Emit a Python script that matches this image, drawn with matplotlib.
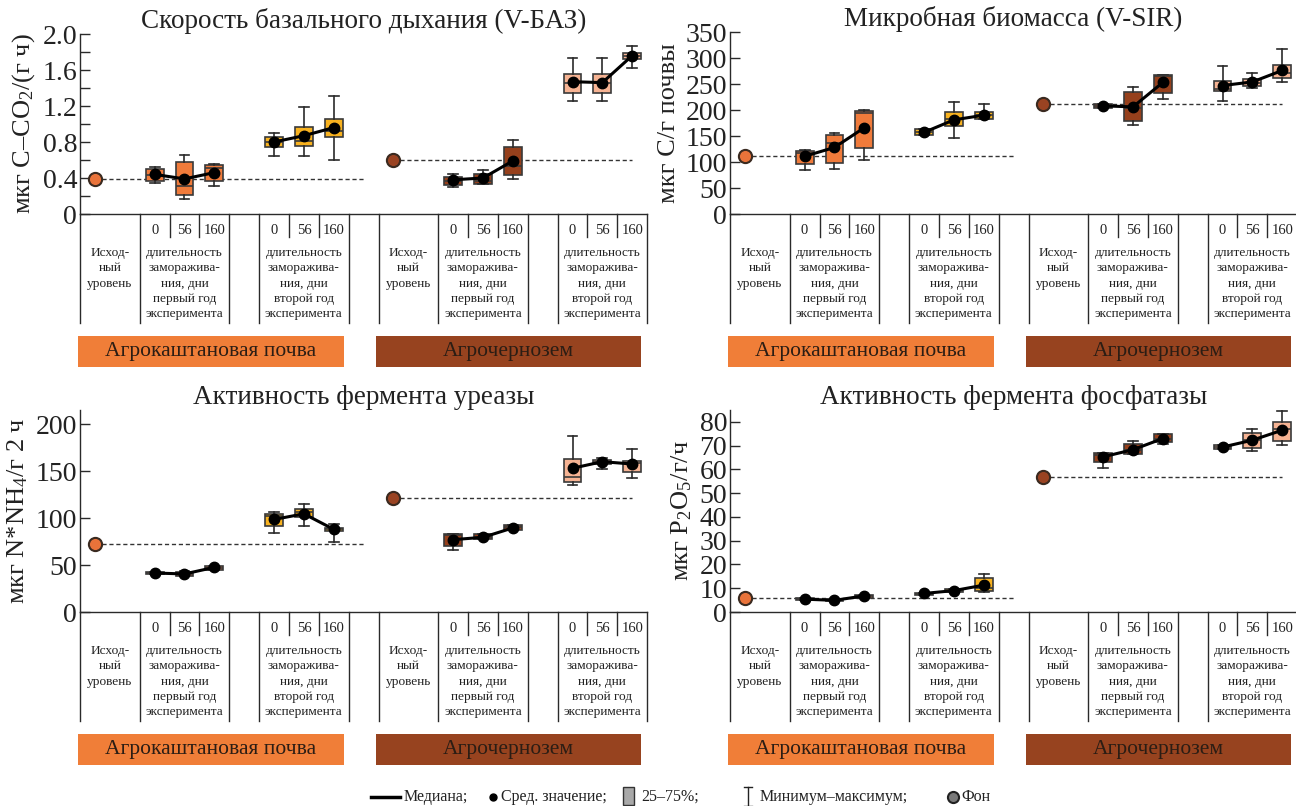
import matplotlib
matplotlib.use("Agg")
import matplotlib.pyplot as plt
from matplotlib.patches import Rectangle

plt.rcParams['font.family'] = ['Liberation Serif', 'DejaVu Serif']
plt.rcParams['mathtext.fontset'] = 'custom'
plt.rcParams['mathtext.rm'] = 'Liberation Serif'
plt.rcParams['mathtext.it'] = 'Liberation Serif:italic'

# ---------------- data ----------------
titles = ["Скорость базального дыхания (V-БАЗ)", "Микробная биомасса (V-SIR)",
          "Активность фермента уреазы", "Активность фермента фосфатазы"]
ylabels = ["мкг C–CO$_2$/(г ч)", "мкг C/г почвы", "мкг N*NH$_4$/г 2 ч", "мкг P$_2$O$_5$/г/ч"]
days = ["0", "56", "160"]
soils = ["Агрокаштановая почва", "Агрочернозем"]
base_text = ["Исход-", "ный", "уровень"]
year1_text = ["длительность", "заморажива-", "ния, дни", "первый год", "эксперимента"]
year2_text = ["длительность", "заморажива-", "ния, дни", "второй год", "эксперимента"]

# boxes: agro y1 (0,56,160), agro y2, chern y1, chern y2
bas_lo = [.34, .17, .31, .65, .65, .60, .30, .33, .39, 1.255, 1.255, 1.62]
bas_q1 = [.37, .21, .37, .75, .76, .86, .32, .33, .43, 1.34, 1.34, 1.72]
bas_med = [.43, .315, .51, .80, .81, .925, .365, .37, .53, 1.455, 1.455, 1.755]
bas_q3 = [.50, .575, .54, .86, .97, 1.055, .415, .45, .75, 1.56, 1.56, 1.79]
bas_hi = [.52, .66, .555, .90, 1.19, 1.31, .44, .485, .82, 1.73, 1.73, 1.87]
bas_mean = [.44, .39, .46, .80, .87, .96, .38, .40, .59, 1.47, 1.46, 1.76]
bas_base = [0.385, 0.595]

sir_lo = [85, 87, 103, 151, 147, 182, 204, 171, 221, 217, 243, 254]
sir_q1 = [96, 98, 126, 151, 169, 183, 204, 179, 232, 236, 247, 261]
sir_med = [118, 136, 195, 158, 182, 190, 208, 204, 266, 241, 252, 271]
sir_q3 = [121, 151, 198, 163, 196, 197, 211, 234, 268, 255, 259, 286]
sir_hi = [124, 156, 200, 163, 215, 211, 212, 245, 268, 284, 272, 317]
sir_mean = [111, 128, 166, 157, 181, 190, 208, 206, 253, 247, 254, 276]
sir_base = [112, 212]

ure_lo = [40, 38, 45, 84, 91.5, 75, 66, 77.5, 87, 135, 152, 143]
ure_q1 = [40, 38, 45, 92, 101.5, 86.5, 70, 77.5, 87, 138, 157, 149.5]
ure_med = [41.5, 40.5, 47, 102, 106, 88, 82, 80, 90, 144, 160, 158.5]
ure_q3 = [43, 43, 49, 104.5, 110, 89.5, 83.5, 82.5, 92.5, 162.5, 161.5, 161]
ure_hi = [43, 44, 49, 106, 115, 94, 83.5, 82.5, 92.5, 187, 164, 174]
ure_mean = [41.5, 40.5, 47.5, 98.5, 104.5, 88, 77, 79.5, 89.5, 153, 160, 157.5]
ure_base = [72.5, 121.5]

pho_lo = [5.0, 4.5, 6.0, 7.3, 8.3, 8.5, 60.7, 66.3, 70.6, 68.6, 67.7, 70.2]
pho_q1 = [5.0, 4.5, 6.0, 7.3, 8.3, 9.0, 63.0, 66.3, 71.5, 68.6, 69.2, 72.0]
pho_med = [5.4, 4.9, 6.6, 7.7, 9.0, 10.0, 66.0, 68.0, 73.0, 69.4, 72.3, 76.8]
pho_q3 = [5.8, 5.3, 7.2, 8.1, 9.6, 14.2, 67.0, 70.7, 74.8, 70.3, 75.2, 79.9]
pho_hi = [5.8, 5.3, 7.2, 8.1, 9.6, 15.8, 67.0, 72.0, 74.8, 70.3, 77.0, 84.5]
pho_mean = [5.4, 4.9, 6.8, 7.8, 9.0, 11.3, 65.3, 68.3, 73.0, 69.4, 72.3, 76.5]
pho_base = [5.8, 56.6]

panels = [
    dict(lo=bas_lo, q1=bas_q1, med=bas_med, q3=bas_q3, hi=bas_hi, mean=bas_mean, base=bas_base,
         ymax=2.0, ticks=[0, 0.4, 0.8, 1.2, 1.6, 2.0], labels=["0", "0.4", "0.8", "1.2", "1.6", "2.0"],
         minor=[0.2, 0.6, 1.0, 1.4, 1.8], x0=80, top=34, zero=214),
    dict(lo=sir_lo, q1=sir_q1, med=sir_med, q3=sir_q3, hi=sir_hi, mean=sir_mean, base=sir_base,
         ymax=350, ticks=list(range(0, 351, 50)), labels=[str(v) for v in range(0, 351, 50)],
         minor=[], x0=730, top=32, zero=214),
    dict(lo=ure_lo, q1=ure_q1, med=ure_med, q3=ure_q3, hi=ure_hi, mean=ure_mean, base=ure_base,
         ymax=215, ticks=list(range(0, 201, 50)), labels=[str(v) for v in range(0, 201, 50)],
         minor=[], x0=80, top=410, zero=612),
    dict(lo=pho_lo, q1=pho_q1, med=pho_med, q3=pho_q3, hi=pho_hi, mean=pho_mean, base=pho_base,
         ymax=85, ticks=list(range(0, 81, 10)), labels=[str(v) for v in range(0, 81, 10)],
         minor=[], x0=730, top=410, zero=612),
]

# ---------------- style ----------------
W, H = 1296, 806
box_colors = ['#F07B3B'] * 3 + ['#F8B21F'] * 3 + ['#96401C'] * 3 + ['#F6B393'] * 3
base_colors = ['#E9733A', '#9A4322']
band_colors = ['#F07E38', '#97431F']
positions = [2.5, 3.5, 4.5, 6.5, 7.5, 8.5, 12.5, 13.5, 14.5, 16.5, 17.5, 18.5]
dark = '#2a2a2a'
unit = 29.85
width_px = 19 * unit

fig = plt.figure(figsize=(W / 100, H / 100), dpi=100)


def add_ax(x0, ytop, x1, ybot):
    return fig.add_axes([x0 / W, 1 - ybot / H, (x1 - x0) / W, (ybot - ytop) / H])


for i, p in enumerate(panels):
    ax = add_ax(p['x0'], p['top'], p['x0'] + width_px, p['zero'])
    ax.set_xlim(0, 19)
    ax.set_ylim(0, p['ymax'])
    for s in ['top', 'right']:
        ax.spines[s].set_visible(False)
    for s in ['left', 'bottom']:
        ax.spines[s].set_color(dark)
        ax.spines[s].set_linewidth(1.0)
    ax.set_xticks([])
    ax.set_yticks(p['ticks'])
    ax.set_yticklabels(p['labels'])
    if p['minor']:
        ax.set_yticks(p['minor'], minor=True)
    ax.tick_params(axis='y', which='both', direction='in', length=7, width=1, color=dark,
                   labelsize=20, labelcolor='#222222', pad=2)
    ax.set_title(titles[i], fontsize=19.5, color='#222222', pad=4)
    ax.set_ylabel(ylabels[i], fontsize=19, color='#222222', labelpad=4)

    # baseline dashed lines and circles
    for k, (xs, xe) in enumerate([(0.5, 9.5), (10.5, 18.5)]):
        ax.plot([xs, xe], [p['base'][k], p['base'][k]], ls=(0, (3, 2)), lw=1.0, color='#333333', zorder=1)
        ax.plot([xs], [p['base'][k]], 'o', ms=9.5, mfc=base_colors[k], mec='#3a2a20', mew=1.5,
                zorder=4, clip_on=False)

    stats = []
    for j in range(12):
        stats.append(dict(med=p['med'][j], q1=p['q1'][j], q3=p['q3'][j],
                          whislo=p['lo'][j], whishi=p['hi'][j], mean=p['mean'][j], fliers=[]))
    bp = ax.bxp(stats, positions=positions, widths=0.6, patch_artist=True, showmeans=False,
                showcaps=True, capwidths=0.33, manage_ticks=False,
                boxprops=dict(edgecolor='#3a3a3a', linewidth=1.2),
                medianprops=dict(color='#3a3a3a', linewidth=1.2),
                whiskerprops=dict(color='#2a2a2a', linewidth=1.2),
                capprops=dict(color='#2a2a2a', linewidth=1.2))
    for patch, c in zip(bp['boxes'], box_colors):
        patch.set_facecolor(c)
        patch.set_zorder(2)
    for g in range(4):
        idx = slice(3 * g, 3 * g + 3)
        ax.plot(positions[idx], p['mean'][idx], '-', color='black', lw=2.2, zorder=5)
        ax.plot(positions[idx], p['mean'][idx], 'o', color='black', ms=7.5, zorder=6)

    # table below the axis
    t = add_ax(p['x0'], p['zero'], p['x0'] + width_px, p['zero'] + 156)
    t.set_xlim(0, 19)
    t.set_ylim(156, 0)
    t.axis('off')
    full = [0, 2, 5, 6, 9, 10, 12, 15, 16, 19]
    short = [3, 4, 7, 8, 13, 14, 17, 18]
    for xv in full:
        t.plot([xv, xv], [0, 109], color=dark, lw=1.0, clip_on=False)
    for xv in short:
        t.plot([xv, xv], [0, 23], color=dark, lw=1.0, clip_on=False)
    for gx in [2.5, 6.5, 12.5, 16.5]:
        for k, d in enumerate(days):
            t.text(gx + k, 17, d, ha='center', va='center', fontsize=10.5, color='#222222')
    for bx in [1, 11]:
        for k, line in enumerate(base_text):
            t.text(bx, 39 + 15.3 * k, line, ha='center', va='center', fontsize=9.6, color='#222222')
    for gx, lines in [(3.5, year1_text), (7.5, year2_text), (13.5, year1_text), (17.5, year2_text)]:
        for k, line in enumerate(lines):
            t.text(gx, 39 + 15.3 * k, line, ha='center', va='center', fontsize=9.6, color='#222222')
    for k, (bx0, bx1) in enumerate([(-0.07, 8.85), (9.93, 18.8)]):
        t.add_patch(Rectangle((bx0, 122), bx1 - bx0, 31, facecolor=band_colors[k],
                              edgecolor='none', clip_on=False))
        t.text((bx0 + bx1) / 2, 137.5, soils[k], ha='center', va='center', fontsize=15.5,
               color='#2b1d14')

# ---------------- legend ----------------
lg = fig.add_axes([0, 0, 1, 1])
lg.set_xlim(0, W)
lg.set_ylim(H, 0)
lg.axis('off')
ly = 797
fs = 11.5
lg.plot([371, 400], [ly, ly], color='black', lw=2.5)
lg.text(404, ly, "Медиана;", va='center', ha='left', fontsize=fs, color='#222222')
lg.plot([493], [ly], 'o', color='black', ms=5)
lg.text(501, ly, "Сред. значение;", va='center', ha='left', fontsize=fs, color='#222222')
lg.add_patch(Rectangle((623, 787), 11, 18, facecolor='#A9A9A9', edgecolor='#333333', lw=1))
lg.text(641, ly, "25–75%;", va='center', ha='left', fontsize=fs, color='#222222')
lg.plot([748, 748], [787, 806], color='#222222', lw=1)
lg.plot([744, 752], [787, 787], color='#222222', lw=1)
lg.plot([744, 752], [806, 806], color='#222222', lw=1)
lg.text(760, ly, "Минимум–максимум;", va='center', ha='left', fontsize=fs, color='#222222')
lg.plot([953], [ly], 'o', ms=8, mfc='#7a7a7a', mec='#222222', mew=1.5)
lg.text(961, ly, "Фон", va='center', ha='left', fontsize=fs, color='#222222')

fig.savefig("out.png", dpi=100)
